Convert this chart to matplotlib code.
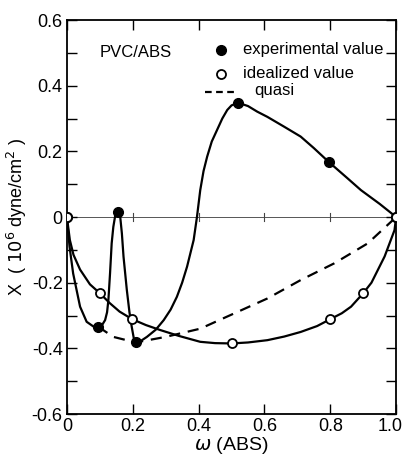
import numpy as np
import matplotlib.pyplot as plt
import matplotlib.transforms as mtransforms

# measured points
exp_w = [0.0, 0.095, 0.154, 0.209, 0.52, 0.795, 1.0]
exp_x = [0.0, -0.334, 0.016, -0.382, 0.348, 0.168, 0.0]
ideal_w = [0.0, 0.10, 0.198, 0.50, 0.80, 0.90, 1.0]
ideal_x = [0.0, -0.232, -0.311, -0.385, -0.311, -0.232, 0.0]

# curves
exp_curve_w = [0.0, 0.008, 0.019, 0.04, 0.06, 0.08, 0.095, 0.108, 0.116, 0.122, 0.126, 0.131,
               0.136, 0.141, 0.146, 0.150, 0.154, 0.158, 0.162, 0.167, 0.172, 0.182, 0.190,
               0.197, 0.203, 0.209, 0.225, 0.243, 0.27, 0.294, 0.315, 0.334, 0.35, 0.365,
               0.385, 0.395, 0.405, 0.415, 0.426, 0.44, 0.456, 0.472, 0.487, 0.50, 0.52,
               0.55, 0.578, 0.609, 0.66, 0.71, 0.75, 0.795, 0.85, 0.893, 0.95, 1.0]
exp_curve_x = [0.0, -0.09, -0.172, -0.273, -0.319, -0.333, -0.334, -0.327, -0.314, -0.29,
               -0.253, -0.172, -0.08, -0.03, 0.0, 0.012, 0.016, 0.012, 0.0, -0.05, -0.121,
               -0.222, -0.29, -0.335, -0.368, -0.382, -0.377, -0.365, -0.343, -0.314, -0.282,
               -0.243, -0.2, -0.151, -0.07, 0.0, 0.082, 0.14, 0.184, 0.23, 0.265, 0.30, 0.326,
               0.34, 0.348, 0.338, 0.321, 0.305, 0.275, 0.245, 0.21, 0.168, 0.12, 0.082, 0.04, 0.0]
ideal_curve_w = [0.0, 0.009, 0.02, 0.04, 0.07, 0.10, 0.13, 0.16, 0.198, 0.24, 0.283, 0.34,
                 0.405, 0.45, 0.50, 0.55, 0.609, 0.66, 0.71, 0.76, 0.80, 0.835, 0.863, 0.9,
                 0.925, 0.944, 0.965, 0.98, 0.995, 1.0]
ideal_curve_x = [0.0, -0.07, -0.115, -0.16, -0.205, -0.232, -0.262, -0.288, -0.311, -0.329,
                 -0.344, -0.362, -0.38, -0.384, -0.385, -0.382, -0.375, -0.364, -0.35, -0.332,
                 -0.311, -0.293, -0.273, -0.232, -0.2, -0.162, -0.12, -0.08, -0.04, 0.0]
quasi_w = [0.095, 0.141, 0.209, 0.30, 0.405, 0.507, 0.609, 0.71, 0.812, 0.914, 1.0]
quasi_x = [-0.334, -0.365, -0.382, -0.365, -0.34, -0.294, -0.248, -0.192, -0.141, -0.08, 0.0]

plt.rcParams['font.family'] = ['Liberation Sans', 'DejaVu Sans']

fig = plt.figure(figsize=(4.03, 4.55), dpi=100)
ax = fig.add_axes([0.166, 0.090, 0.817, 0.866])

ax.axhline(0, color='#555555', lw=0.7, zorder=1)
for t in [0.2, 0.4, 0.6, 0.8]:
    ax.plot([t, t], [-0.012, 0.012], color='#444444', lw=0.8, zorder=1)

ax.plot(exp_curve_w, exp_curve_x, color='black', lw=1.6, zorder=2)
ax.plot(ideal_curve_w, ideal_curve_x, color='black', lw=1.6, zorder=2)
ax.plot(quasi_w, quasi_x, color='black', lw=1.6, ls=(0, (5, 3.5)), zorder=2)
ax.plot(exp_w, exp_x, 'o', color='black', ms=7, zorder=3)
ax.plot(ideal_w, ideal_x, 'o', mfc='white', mec='black', mew=1.3, ms=6.5, zorder=3)

ax.set_xlim(0, 1.0)
ax.set_ylim(-0.6, 0.6)
ax.set_xticks([0, 0.2, 0.4, 0.6, 0.8, 1.0])
ax.set_xticklabels(['0', '0.2', '0.4', '0.6', '0.8', '1.0'])
ax.set_yticks([-0.6, -0.4, -0.2, 0, 0.2, 0.4, 0.6])
ax.set_yticklabels(['-0.6', '-0.4', '-0.2', '0', '0.2', '0.4', '0.6'])
ax.set_yticks(np.arange(-0.5, 0.6, 0.2), minor=True)
ax.tick_params(which='both', direction='in', top=True, right=True, length=7,
               width=1, labelsize=13, pad=3)
for s in ax.spines.values():
    s.set_linewidth(1.3)

# keep the last x label inside the figure
last = ax.get_xticklabels()[-1]
last.set_transform(last.get_transform() + mtransforms.ScaledTranslation(-6 / 100, 0, fig.dpi_scale_trans))

ax.set_xlabel(r'$\omega$ (ABS)', fontsize=14, labelpad=0)
ax.set_ylabel(r'X  ( $10^6$ dyne/cm$^2$ )', fontsize=13, labelpad=2)

ax.text(0.1, 0.5, 'PVC/ABS', fontsize=12, va='center')
ax.plot([0.467], [0.51], 'o', color='black', ms=7)
ax.text(0.535, 0.51, 'experimental value', fontsize=12, va='center')
ax.plot([0.467], [0.437], 'o', mfc='white', mec='black', mew=1.3, ms=6.5)
ax.text(0.535, 0.437, 'idealized value', fontsize=12, va='center')
ax.plot([0.42, 0.52], [0.38, 0.38], color='black', lw=1.6, ls=(0, (3, 2)))
ax.text(0.57, 0.385, 'quasi', fontsize=12, va='center')

fig.savefig('out.png', dpi=100)
